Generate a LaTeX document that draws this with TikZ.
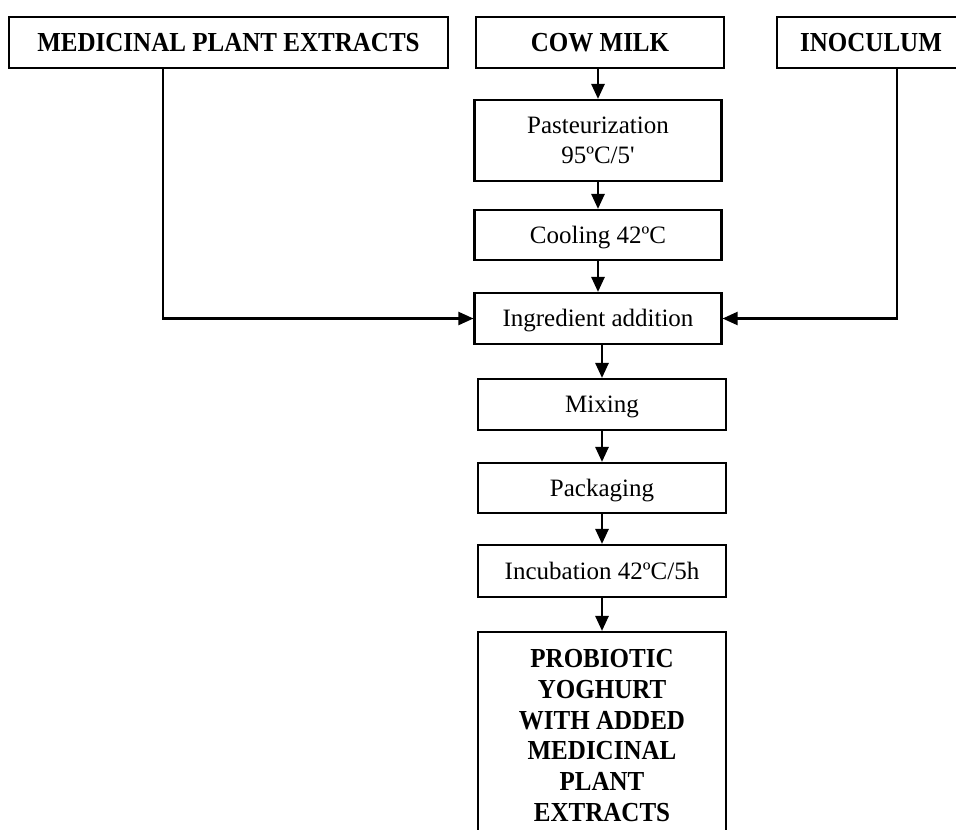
\documentclass[tikz,border=0pt]{standalone}
\usepackage{fontspec}
\setmainfont{Liberation Serif}[Ligatures=TeXOff]
\newfontfamily\hdfont{Liberation Serif}[FakeStretch=0.91,Ligatures=TeXOff]
\usetikzlibrary{arrows.meta}
\begin{document}
\begin{tikzpicture}[x=1pt,y=-1pt,
  box/.style={draw, line width=2.1pt, inner sep=0pt, align=center,
    font=\fontsize{25}{30}\selectfont},
  one/.style={text height=16.5pt, text depth=0pt},
  hbox/.style={box, font=\hdfont\bfseries\fontsize{27.5}{30.8}\selectfont},
  hone/.style={text height=18.2pt, text depth=0pt},
  arr/.style={line width=2.6pt, -{Triangle[length=15pt,width=13pt]}},
  sarr/.style={line width=2.1pt, -{Triangle[length=15pt,width=13pt]}}]
\useasboundingbox (0,0) rectangle (956,830);
\node[hbox, hone, minimum width=439pt, minimum height=51pt] (mpe) at (228.5,42.5) {MEDICINAL PLANT EXTRACTS};
\node[hbox, hone, minimum width=248pt, minimum height=51pt] (cow) at (600,42.5) {COW MILK};
\node[hbox, hone, minimum width=188pt, minimum height=51pt] (inoc) at (871,42.5) {INOCULUM};
\node[box, minimum width=247pt, minimum height=81pt] (past) at (598,140.5) {Pasteurization\\95ºC/5'};
\node[box, one, minimum width=247pt, minimum height=50pt] (cool) at (598,235) {Cooling 42ºC};
\node[box, one, minimum width=247pt, minimum height=51pt] (ingr) at (598,318.5) {Ingredient addition};
\node[box, one, minimum width=248pt, minimum height=51pt] (mix) at (602,404.5) {Mixing};
\node[box, one, minimum width=248pt, minimum height=50pt] (pack) at (602,488) {Packaging};
\node[box, one, minimum width=248pt, minimum height=52pt] (incu) at (602,571) {Incubation 42ºC/5h};
\node[hbox, minimum width=248pt, minimum height=207pt] (fin) at (602,735.5) {PROBIOTIC\\YOGHURT\\WITH ADDED\\MEDICINAL\\PLANT\\EXTRACTS};
\coordinate (mpeX) at (163,0);
\coordinate (inX) at (897,0);
\draw[arr] (cow.south -| past.north) -- (past.north);
\draw[arr] (past) -- (cool);
\draw[arr] (cool) -- (ingr);
\draw[arr] (ingr.south -| mix.north) -- (mix.north);
\draw[arr] (mix) -- (pack);
\draw[arr] (pack) -- (incu);
\draw[arr] (incu) -- (fin);
\draw[sarr] (mpe.south -| mpeX) |- (ingr.west);
\draw[sarr] (inoc.south -| inX) |- (ingr.east);
\end{tikzpicture}
\end{document}
